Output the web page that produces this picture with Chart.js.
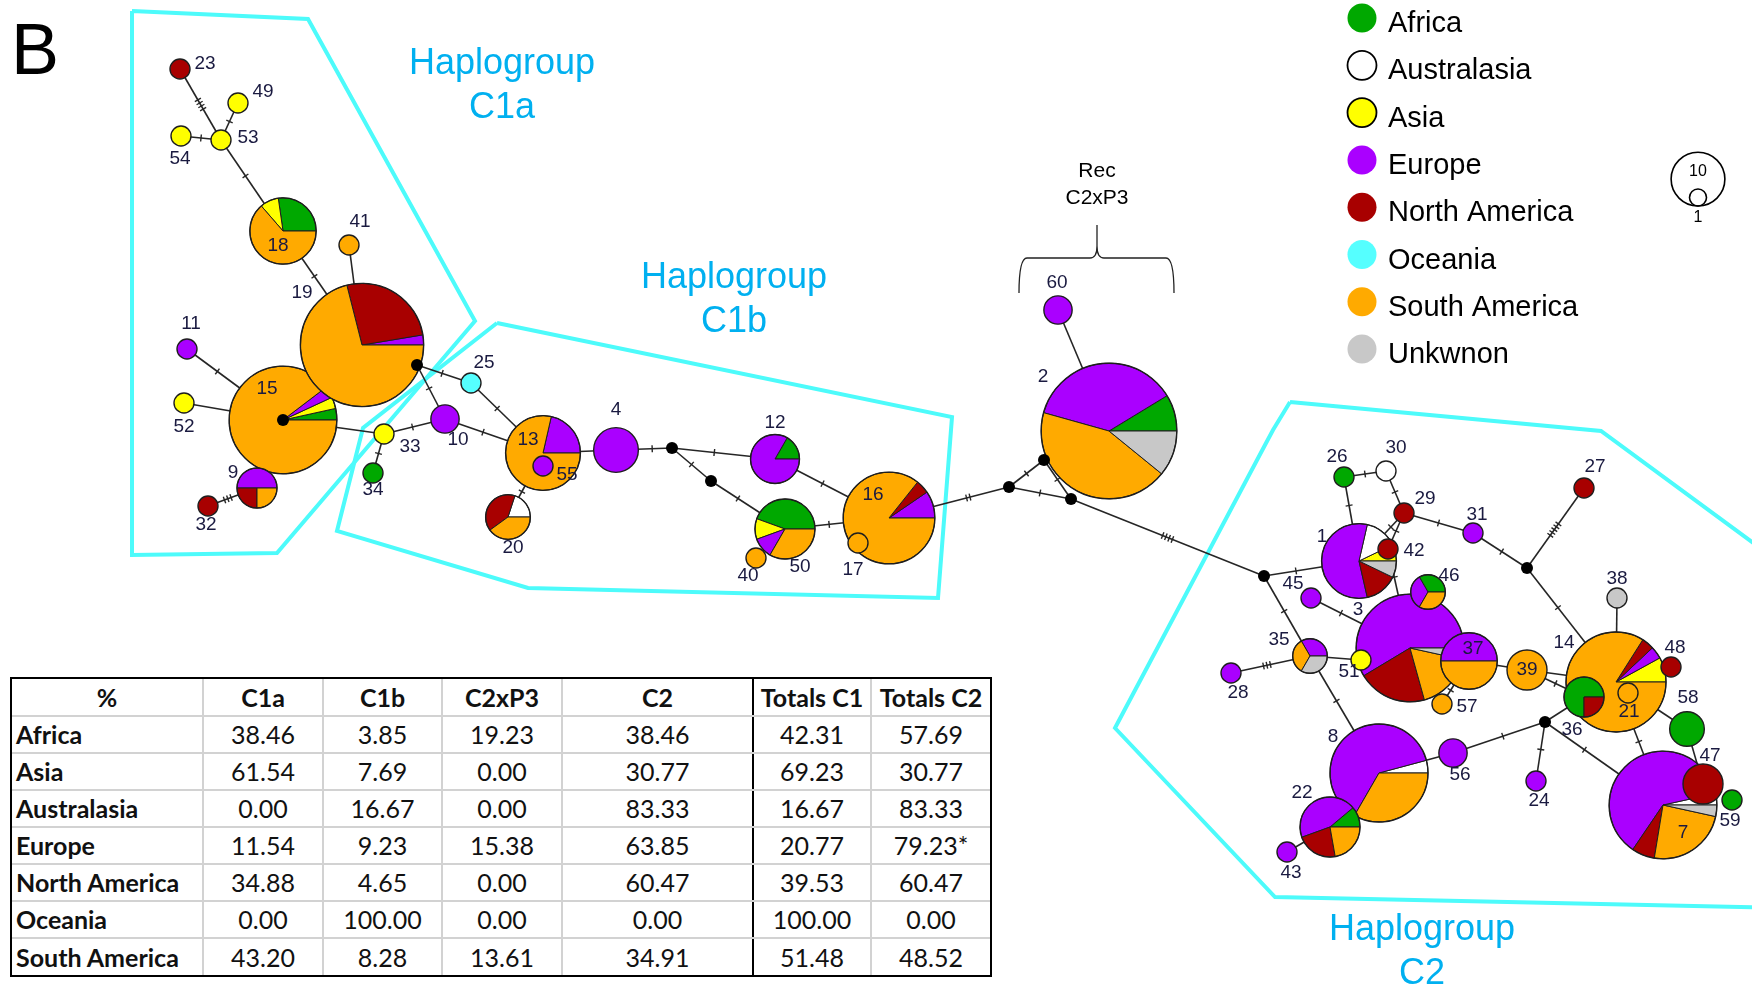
<!DOCTYPE html>
<html>
<head>
<meta charset="utf-8">
<script src="https://cdn.jsdelivr.net/npm/chart.js@4.4.1/dist/chart.umd.min.js"></script>
<style>
html, body { margin: 0; padding: 0; background: #fff; }
#wrap { position: relative; width: 1752px; height: 987px; overflow: hidden; }
#net { position: absolute; left: 0; top: 0; }
#freq { position: absolute; left: 10px; top: 677px; border: 2px solid #000; background: #fff; }
#freq table { border-collapse: collapse; table-layout: fixed; font-family: Lato, "Open Sans", sans-serif; font-size: 25px; color: #111; }
#freq tr { height: 37px; }
#freq td { border: 2px solid #d2d2d2; padding: 0; text-align: center; white-space: nowrap; overflow: hidden; line-height: 1; }
#freq tr:first-child td { border-top: none; font-weight: bold; }
#freq tr:last-child td { border-bottom: none; }
#freq td:first-child { border-left: none; text-align: left; padding-left: 4px; font-weight: bold; }
#freq td:last-child { border-right: none; }
#freq td.sep { border-right: 2px solid #000; }
#freq tr:first-child td:first-child { text-align: center; padding-left: 0; }
</style>
</head>
<body>
<div id="wrap">
  <canvas id="net" width="1752" height="987"></canvas>
  <div id="freq"></div>
</div>
<script>
// haplotypes (network coordinates are the layout of the median-joining network)
const hapIds = ['23','49','54','53','18','41','15','19','11','52',
                '9','32','25','10','33','34','13','55','20','4',
                '12','50','40','16','17','60','2','26','30','29',
                '31','27','1','42','45','3','46','35','51','28',
                '37','57','39','14','38','48','21','36','56','24',
                '58','7','47','59','8','22','43'];
const hapX = [180,238,181,221,283,349,283,362,187,184,
              257,208,471,445,384,373,543,543,508,616,
              775,785,756,889,858,1058,1109,1344,1386,1404,
              1473,1584,1359,1388,1311,1410,1428,1310,1361,1231,
              1469,1442,1527,1616,1617,1671,1628,1584,1453,1536,
              1687,1663,1703,1732,1379,1330,1287];
const hapY = [69,103,136,140,231,245,420,345,349,403,
              488,506,383,419,434,473,453,466,517,450,
              459,529,558,518,543,310,431,477,471,513,
              533,488,561,549,598,648,592,656,660,673,
              661,704,670,682,598,667,693,697,753,781,
              729,805,784,800,773,827,852];
const labelX = [205,263,180,248,278,360,267,302,191,184,
                233,206,484,458,410,373,528,567,513,616,
                775,800,748,873,853,1057,1043,1337,1396,1425,
                1477,1595,1322,1414,1293,1358,1449,1279,1349,1238,
                1473,1467,1527,1564,1617,1675,1629,1572,1460,1539,
                1688,1683,1710,1730,1333,1302,1291];
const labelY = [64,92,159,138,246,222,389,293,324,427,
                473,525,363,440,447,490,440,475,548,410,
                423,567,576,495,570,283,377,457,448,499,
                515,467,537,551,584,610,576,640,672,693,
                649,707,670,643,579,648,712,730,775,801,
                698,833,756,821,737,793,873];

// sequences per region in each haplotype
const africa       = [0,0,0,0,3,0,1,0,0,0, 0,0,0,0,0,1,0,0,0,0, 1,4,0,0,0,0,4,1,0,0, 0,0,0,0,0,0,1,0,0,0, 0,0,0,0,0,0,0,3,0,0, 3,0,0,1,0,1,0];
const asia         = [0,1,1,1,1,0,1,0,0,1, 0,0,0,0,1,0,0,0,0,0, 0,1,0,0,0,0,0,0,0,0, 0,0,1,0,0,0,0,0,1,0, 0,0,0,2,0,0,0,0,0,0, 0,0,0,0,0,0,0];
const australasia  = [0,0,0,0,0,0,0,0,0,0, 0,0,0,0,0,0,0,0,1,0, 0,0,0,0,0,0,0,0,1,0, 0,0,2,0,0,0,0,0,0,0, 0,0,0,0,0,0,0,0,0,0, 0,1,0,0,1,0,0];
const europe       = [0,0,0,0,0,0,1,1,1,0, 2,0,0,2,0,0,3,1,0,5, 5,1,0,2,0,2,17,0,0,0, 1,0,8,0,1,17,1,1,0,1, 4,0,0,1,0,0,0,0,2,1, 0,18,0,0,15,4,1];
const northAmerica = [1,0,0,0,0,0,0,10,0,0, 1,1,0,0,0,0,0,0,2,0, 0,0,0,1,0,0,0,0,0,1, 0,1,2,1,0,6,0,0,0,0, 0,0,0,1,0,1,0,1,0,0, 0,2,4,0,0,2,0];
const oceania      = [0,0,0,0,0,0,0,0,0,0, 0,0,1,0,0,0,0,0,0,0, 0,0,0,0,0,0,0,0,0,0, 0,0,0,0,0,0,0,0,0,0, 0,0,0,0,0,0,0,0,0,0, 0,0,0,0,0,0,0];
const southAmerica = [0,0,0,0,7,1,26,27,0,0, 1,0,0,0,0,0,11,0,2,0, 0,3,1,18,1,0,20,0,0,0, 0,0,0,0,0,5,1,1,0,0, 4,1,4,21,0,0,1,0,0,0, 0,7,0,0,8,2,0];
const unknown      = [0,0,0,0,0,0,0,0,0,0, 0,0,0,0,0,0,0,0,0,0, 0,0,0,0,0,0,5,0,0,0, 0,0,1,0,0,1,0,1,0,0, 0,0,0,0,1,0,0,0,0,0, 0,1,0,0,0,0,0];

// median vectors
const medianIds = ['mA','mB','mC','mD','mE','mF','mG','mH','mI','mJ'];
const medianX = [1264,1527,1545,417,672,711,1009,1044,1071,283];
const medianY = [576,568,722,365,448,481,487,460,499,420];

// links: from, to, mutation marks
const links = [
  ['23','53',4],['49','53',1],['54','53',1],['53','18',1],['18','19',1],['41','19',0],
  ['11','15',1],['52','15',0],['32','9',3],['15','33',0],['33','34',1],['33','10',1],
  ['10','mD',1],['mD','25',1],['25','13',1],['10','13',1],['13','20',1],['13','4',0],
  ['4','mE',1],['mE','12',1],['mE','mF',1],['mF','50',1],['12','16',1],['50','16',1],
  ['40','50',0],['16','mG',2],['mG','mH',1],['mG','mI',1],['mH','mI',1],['60','2',0],
  ['mI','mA',4],['mA','1',1],['mA','35',1],['35','8',1],['35','28',3],['35','51',0],
  ['45','3',1],['26','1',1],['26','30',1],['30','29',1],['29','42',1],['29','1',1],
  ['42','3',1],['29','31',1],['31','mB',1],['mB','27',5],['mB','14',1],['37','57',1],
  ['37','39',0],['39','14',0],['39','36',1],['14','38',0],['36','mC',0],['mC','56',1],
  ['mC','24',1],['mC','7',1],['14','7',1],['14','58',0],['58','47',0],['8','56',0],
  ['22','43',0]
];

// hulls of the haplogroups
const hullC1a = [[132,11],[308,19],[475,321],[277,553],[132,555]];
const hullC1b = [[497,323],[952,417],[938,598],[528,588],[337,531],[363,428]];
const hullC2  = [[1290,402],[1601,431],[1790,570],[1790,908],[1275,897],[1115,728],[1265,445],[1273,430]];

const groupLines = [['Haplogroup','C1a'],['Haplogroup','C1b'],['Haplogroup','C2']];
const groupX = [502,734,1422];
const groupY = [74,288,940];

const legendNames = ['Africa','Australasia','Asia','Europe','North America','Oceania','South America','Unkwnon'];
const legendColors = ['#00a800','#ffffff','#ffff00','#aa00ff','#a80000','#55ffff','#ffaa00','#c8c8c8'];
const legendOutline = [false,true,true,false,false,false,false,false];

// pie slice order and colours
const sliceSeries = [africa, asia, australasia, europe, northAmerica, oceania, southAmerica, unknown];
const sliceColors = ['#00a800','#ffff00','#ffffff','#aa00ff','#a80000','#55ffff','#ffaa00','#c8c8c8'];

// table
const tableColumns = ['C1a','C1b','C2xP3','C2','Totals C1','Totals C2'];
const tableRows = ['Africa','Asia','Australasia','Europe','North America','Oceania','South America'];
const pctC1a    = [38.46, 61.54, 0.00, 11.54, 34.88, 0.00, 43.20];
const pctC1b    = [3.85, 7.69, 16.67, 9.23, 4.65, 100.00, 8.28];
const pctC2xP3  = [19.23, 0.00, 0.00, 15.38, 0.00, 0.00, 13.61];
const pctC2     = [38.46, 30.77, 83.33, 63.85, 60.47, 0.00, 34.91];
const totalsC1  = [42.31, 69.23, 16.67, 20.77, 39.53, 100.00, 51.48];
const totalsC2  = [57.69, 30.77, 83.33, 79.23, 60.47, 0.00, 48.52];
const totalsC2Note = ['', '', '', '*', '', '', ''];

function buildTable() {
    const cols = [pctC1a, pctC1b, pctC2xP3, pctC2, totalsC1, totalsC2];
    const widths = [191,120,119,120,191,118,119];
    let html = '<table><colgroup>' + widths.map(w => `<col style="width:${w}px">`).join('') + '</colgroup>';
    html += '<tr><td>%</td>' + tableColumns.map((c, j) => `<td${j === 3 ? ' class="sep"' : ''}>${c}</td>`).join('') + '</tr>';
    tableRows.forEach((name, i) => {
        html += `<tr><td>${name}</td>`;
        cols.forEach((col, j) => {
            const note = j === 5 ? totalsC2Note[i] : '';
            html += `<td${j === 3 ? ' class="sep"' : ''}>${col[i].toFixed(2)}${note}</td>`;
        });
        html += '</tr>';
    });
    html += '</table>';
    document.getElementById('freq').innerHTML = html;
}

const nodeScale = 10;    // radius = nodeScale * sqrt(n)
const legendScale = 8.5;

function drawPie(ctx, cx, cy, r, i) {
    const counts = sliceSeries.map(s => s[i]);
    const total = counts.reduce((a, b) => a + b, 0);
    const used = counts.map((v, k) => [v, k]).filter(d => d[0] > 0);
    ctx.strokeStyle = '#1e1e1e';
    ctx.lineWidth = 1;
    if (used.length === 1) {
        ctx.beginPath();
        ctx.arc(cx, cy, r, 0, Math.PI * 2);
        ctx.fillStyle = sliceColors[used[0][1]];
        ctx.fill();
    } else {
        let a0 = 0;
        used.forEach(([v, k]) => {
            const a1 = a0 - v / total * Math.PI * 2;
            ctx.beginPath();
            ctx.moveTo(cx, cy);
            ctx.arc(cx, cy, r, a0, a1, true);
            ctx.closePath();
            ctx.fillStyle = sliceColors[k];
            ctx.fill();
            ctx.stroke();
            a0 = a1;
        });
    }
    ctx.beginPath();
    ctx.arc(cx, cy, r, 0, Math.PI * 2);
    ctx.lineWidth = 1.4;
    ctx.stroke();
}

const networkPlugin = {
    id: 'network',
    afterDatasetsDraw(chart) {
        const ctx = chart.ctx;
        const sx = chart.scales.x, sy = chart.scales.y;
        const unit = sx.getPixelForValue(1) - sx.getPixelForValue(0);
        const nodes = {};
        hapIds.forEach((id, i) => {
            const n = sliceSeries.reduce((s, a) => s + a[i], 0);
            nodes[id] = { x: sx.getPixelForValue(hapX[i]), y: sy.getPixelForValue(hapY[i]), r: nodeScale * Math.sqrt(n) * unit };
        });
        medianIds.forEach((id, i) => {
            nodes[id] = { x: sx.getPixelForValue(medianX[i]), y: sy.getPixelForValue(medianY[i]), r: 6 * unit };
        });

        ctx.save();
        // links
        ctx.strokeStyle = '#262626';
        links.forEach(([a, b, m]) => {
            const p = nodes[a], q = nodes[b];
            const dx = q.x - p.x, dy = q.y - p.y, len = Math.hypot(dx, dy);
            const ux = dx / len, uy = dy / len;
            ctx.lineWidth = 1.6;
            ctx.beginPath();
            ctx.moveTo(p.x, p.y);
            ctx.lineTo(q.x, q.y);
            ctx.stroke();
            const mid = (p.r + len - q.r) / 2;
            ctx.lineWidth = 1.4;
            for (let k = 0; k < m; k++) {
                const s = mid + (k - (m - 1) / 2) * 3.5;
                const tx = p.x + ux * s, ty = p.y + uy * s;
                ctx.beginPath();
                ctx.moveTo(tx - uy * 3.5, ty + ux * 3.5);
                ctx.lineTo(tx + uy * 3.5, ty - ux * 3.5);
                ctx.stroke();
            }
        });
        // haplotype pies
        hapIds.forEach((id, i) => drawPie(ctx, nodes[id].x, nodes[id].y, nodes[id].r, i));
        // median vectors
        ctx.fillStyle = '#000';
        medianIds.forEach(id => {
            ctx.beginPath();
            ctx.arc(nodes[id].x, nodes[id].y, nodes[id].r, 0, Math.PI * 2);
            ctx.fill();
        });
        // haplotype labels
        ctx.font = '19px "Liberation Sans", Arial, sans-serif';
        ctx.fillStyle = '#1a1a40';
        ctx.textAlign = 'center';
        ctx.textBaseline = 'middle';
        hapIds.forEach((id, i) => ctx.fillText(id, sx.getPixelForValue(labelX[i]), sy.getPixelForValue(labelY[i])));
        ctx.restore();
    },
    afterDraw(chart) {
        const ctx = chart.ctx;
        const sx = chart.scales.x, sy = chart.scales.y;
        const X = v => sx.getPixelForValue(v), Y = v => sy.getPixelForValue(v);
        ctx.save();
        ctx.textAlign = 'center';
        ctx.textBaseline = 'alphabetic';
        // panel letter
        ctx.fillStyle = '#000';
        ctx.font = '72px "Liberation Sans", Arial, sans-serif';
        ctx.fillText('B', X(35), Y(74));
        // haplogroup names
        ctx.fillStyle = '#00b0f0';
        ctx.font = '36px "Liberation Sans", Arial, sans-serif';
        groupLines.forEach((lines, g) => {
            lines.forEach((t, k) => ctx.fillText(t, X(groupX[g]), Y(groupY[g] + k * 44)));
        });
        // recombinant bracket
        ctx.fillStyle = '#000';
        ctx.font = '21px "Liberation Sans", Arial, sans-serif';
        ctx.fillText('Rec', X(1097), Y(177));
        ctx.fillText('C2xP3', X(1097), Y(204));
        ctx.strokeStyle = '#222';
        ctx.lineWidth = 1.3;
        ctx.beginPath();
        ctx.moveTo(X(1019), Y(293));
        ctx.quadraticCurveTo(X(1019), Y(258), X(1027), Y(258));
        ctx.lineTo(X(1090), Y(258));
        ctx.quadraticCurveTo(X(1097), Y(258), X(1097), Y(246));
        ctx.lineTo(X(1097), Y(225));
        ctx.moveTo(X(1097), Y(246));
        ctx.quadraticCurveTo(X(1097), Y(258), X(1104), Y(258));
        ctx.lineTo(X(1166), Y(258));
        ctx.quadraticCurveTo(X(1174), Y(258), X(1174), Y(293));
        ctx.stroke();
        // region legend
        ctx.textAlign = 'left';
        ctx.font = '29px "Liberation Sans", Arial, sans-serif';
        legendNames.forEach((name, i) => {
            const cy = 18 + i * 47.3;
            ctx.beginPath();
            ctx.arc(X(1362), Y(cy), 14.5, 0, Math.PI * 2);
            ctx.fillStyle = legendColors[i];
            ctx.fill();
            if (legendOutline[i]) { ctx.lineWidth = 1.8; ctx.strokeStyle = '#000'; ctx.stroke(); }
            ctx.fillStyle = '#000';
            ctx.fillText(name, X(1388), Y(cy + 14));
        });
        // size legend
        const big = legendScale * Math.sqrt(10), small = legendScale;
        ctx.strokeStyle = '#000';
        ctx.lineWidth = 1.6;
        ctx.beginPath();
        ctx.arc(X(1698), Y(206 - big), big, 0, Math.PI * 2);
        ctx.stroke();
        ctx.beginPath();
        ctx.arc(X(1698), Y(206 - small), small, 0, Math.PI * 2);
        ctx.stroke();
        ctx.textAlign = 'center';
        ctx.textBaseline = 'middle';
        ctx.font = '16px "Liberation Sans", Arial, sans-serif';
        ctx.fillText('10', X(1698), Y(172));
        ctx.fillText('1', X(1698), Y(218));
        ctx.restore();
    }
};

function hullData(h) {
    return h.concat([h[0]]).map(p => ({ x: p[0], y: p[1] }));
}

document.addEventListener('DOMContentLoaded', function () {
    buildTable();
    const hullStyle = { showLine: true, borderColor: '#4dfbfb', borderWidth: 4, pointRadius: 0, fill: false, tension: 0, borderJoinStyle: 'miter' };
    new Chart(document.getElementById('net').getContext('2d'), {
        type: 'scatter',
        data: {
            datasets: [
                Object.assign({ label: 'C1a', data: hullData(hullC1a) }, hullStyle),
                Object.assign({ label: 'C1b', data: hullData(hullC1b) }, hullStyle),
                Object.assign({ label: 'C2', data: hullData(hullC2) }, hullStyle),
                { label: 'haplotypes', data: hapIds.map((id, i) => ({ x: hapX[i], y: hapY[i] })), pointRadius: 0 }
            ]
        },
        options: {
            responsive: false,
            animation: false,
            events: [],
            layout: { padding: 0 },
            scales: {
                x: { type: 'linear', min: 0, max: 1752, display: false },
                y: { type: 'linear', min: 0, max: 987, reverse: true, display: false }
            },
            plugins: { legend: { display: false }, tooltip: { enabled: false } }
        },
        plugins: [networkPlugin]
    });
});
</script>
</body>
</html>
